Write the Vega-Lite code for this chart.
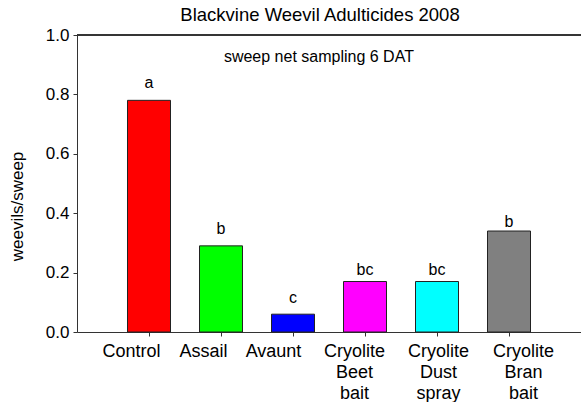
{
  "$schema": "https://vega.github.io/schema/vega-lite/v6.json",
  "width": 504,
  "height": 297,
  "autosize": {"type": "none"},
  "padding": {"left": 77, "top": 35, "right": 0, "bottom": 70},
  "background": "white",
  "config": {"font": "Liberation Sans", "view": {"stroke": null}},
  "title": {"text": "Blackvine Weevil Adulticides 2008", "fontSize": 18.5, "fontWeight": "normal", "anchor": "middle", "frame": "group", "baseline": "bottom", "offset": 6, "dx": -9, "dy": 23, "color": "black", "font": "Liberation Sans"},
  "data": {"values": [
    {"treatment": "Control", "weevils": 0.78, "letter": "a", "letter_y": 0.822},
    {"treatment": "Assail", "weevils": 0.29, "letter": "b", "letter_y": 0.330},
    {"treatment": "Avaunt", "weevils": 0.06, "letter": "c", "letter_y": 0.098},
    {"treatment": "Cryolite Beet bait", "weevils": 0.17, "letter": "bc", "letter_y": 0.192},
    {"treatment": "Cryolite Dust spray", "weevils": 0.17, "letter": "bc", "letter_y": 0.192},
    {"treatment": "Cryolite Bran bait", "weevils": 0.34, "letter": "b", "letter_y": 0.354}
  ]},
  "layer": [
    {
      "mark": {"type": "rule", "color": "#333", "strokeWidth": 1},
      "encoding": {"y": {"datum": 1, "type": "quantitative"}}
    },
    {
      "mark": {"type": "bar", "width": 43, "stroke": "#222", "strokeWidth": 1},
      "encoding": {
        "x": {
          "field": "treatment", "type": "nominal",
          "scale": {"type": "point", "padding": 0, "domain": [" ", "Control", "Assail", "Avaunt", "Cryolite Beet bait", "Cryolite Dust spray", "Cryolite Bran bait", "  "]},
          "axis": {
            "title": null,
            "values": ["Control", "Assail", "Avaunt", "Cryolite Beet bait", "Cryolite Dust spray", "Cryolite Bran bait"],
            "labelExpr": "split(datum.label, ' ')",
            "labelFontSize": 18, "labelLineHeight": 21, "labelColor": "black",
            "labelAngle": 0, "labelPadding": 6, "labelBaseline": "top",
            "tickSize": 4, "tickColor": "#333", "domainColor": "#333", "grid": false,
            "labelOffset": {
              "condition": [
                {"test": "datum.value === 'Control'", "value": -18},
                {"test": "datum.value === 'Assail'", "value": -18},
                {"test": "datum.value === 'Avaunt'", "value": -20},
                {"test": "datum.value === 'Cryolite Beet bait'", "value": -11},
                {"test": "datum.value === 'Cryolite Dust spray'", "value": 1}
              ],
              "value": 14
            }
          }
        },
        "y": {
          "field": "weevils", "type": "quantitative",
          "scale": {"domain": [0, 1]},
          "axis": {
            "title": "weevils/sweep", "values": [0, 0.2, 0.4, 0.6, 0.8, 1.0], "format": ".1f",
            "labelFontSize": 17, "labelColor": "black", "labelPadding": 4,
            "titleFontSize": 17, "titleFontWeight": "normal", "titleColor": "black",
            "titleX": -60, "titleY": 171, "titleBaseline": "middle", "titleAlign": "center",
            "tickSize": 4, "tickColor": "#333", "domainColor": "#333", "grid": false
          }
        },
        "color": {
          "field": "treatment", "type": "nominal",
          "scale": {"domain": ["Control", "Assail", "Avaunt", "Cryolite Beet bait", "Cryolite Dust spray", "Cryolite Bran bait"],
                    "range": ["#ff0000", "#00ff00", "#0000ff", "#ff00ff", "#00ffff", "#808080"]},
          "legend": null
        }
      }
    },
    {
      "mark": {"type": "text", "fontSize": 16, "baseline": "alphabetic", "color": "black"},
      "encoding": {
        "x": {"field": "treatment", "type": "nominal"},
        "y": {"field": "letter_y", "type": "quantitative"},
        "text": {"field": "letter"}
      }
    },
    {
      "data": {"values": [{"note": "sweep net sampling 6 DAT", "note_y": 0.909}]},
      "mark": {"type": "text", "fontSize": 16, "baseline": "alphabetic", "color": "black", "x": {"expr": "width*0.48"}},
      "encoding": {
        "y": {"field": "note_y", "type": "quantitative"},
        "text": {"field": "note"}
      }
    }
  ]
}
